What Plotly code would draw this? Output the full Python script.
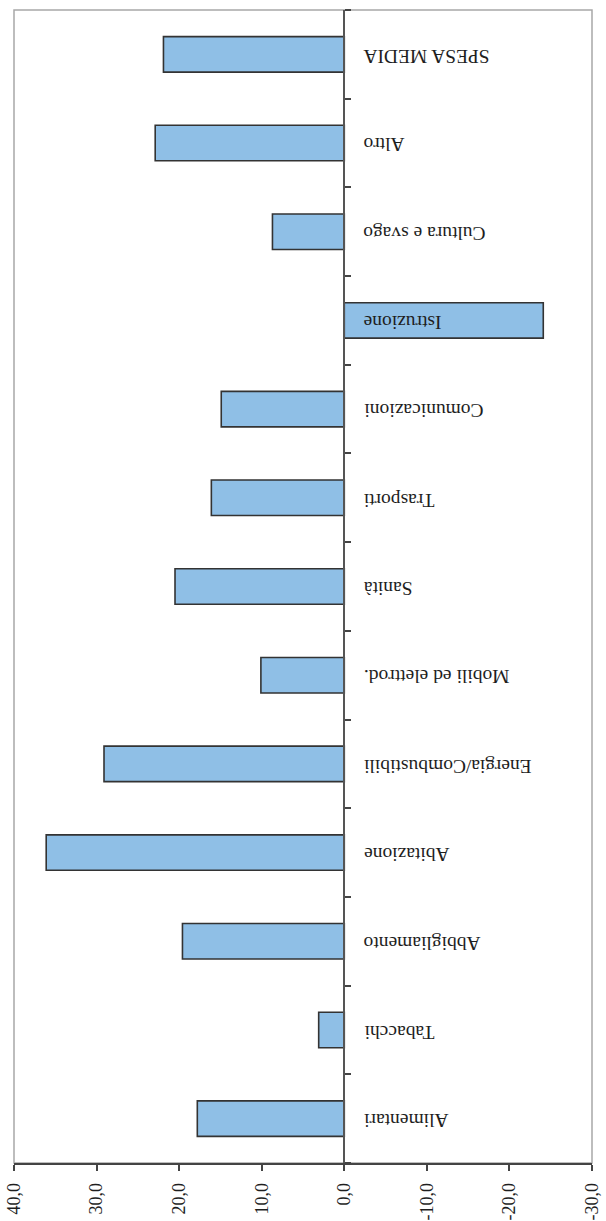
import plotly.graph_objects as go

# Spending categories (bottom to top) and their percentage values
categories = [
    "Alimentari", "Tabacchi", "Abbigliamento", "Abitazione",
    "Energia/Combustibili", "Mobili ed elettrod.", "Sanità", "Trasporti",
    "Comunicazioni", "Istruzione", "Cultura e svago", "Altro", "SPESA MEDIA",
]
values = [17.8, 3.1, 19.6, 36.1, 29.1, 10.1, 20.5, 16.1, 14.9, -24.1, 8.7, 22.9, 21.9]

tick_vals = [40, 30, 20, 10, 0, -10, -20, -30]
tick_text = ["40,0", "30,0", "20,0", "10,0", "0,0", "-10,0", "-20,0", "-30,0"]

x_min, x_max = -30, 40
serif = "Liberation Serif, Times New Roman, serif"
text_col = "#1e1e1e"

fig = go.Figure()
fig.add_trace(go.Bar(
    x=values,
    y=categories,
    orientation="h",
    marker=dict(color="#8FBFE6", line=dict(color="#333333", width=1.6)),
    hoverinfo="x+y",
))

# Upside-down category labels placed just past the zero line
for cat in categories:
    fig.add_annotation(
        x=0, y=cat, xref="x", yref="y",
        text=cat, showarrow=False,
        textangle=180, xanchor="left", yanchor="middle",
        xshift=17, yshift=-2,
        font=dict(family=serif, size=19.5, color=text_col),
    )

# Light frame around the plotting area
fig.add_shape(
    type="rect", xref="paper", yref="paper", x0=0, x1=1, y0=0, y1=1,
    line=dict(color="#A8A8A8", width=1.5), layer="below",
)

fig.update_layout(
    width=606, height=1221,
    margin=dict(l=14, r=14, t=10, b=58),
    paper_bgcolor="white", plot_bgcolor="white",
    showlegend=False,
    bargap=0.6,
    font=dict(family=serif, color=text_col),
    xaxis=dict(
        range=[x_max, x_min],
        tickvals=tick_vals, ticktext=tick_text,
        tickangle=-90,
        tickfont=dict(family=serif, size=18, color=text_col),
        ticks="outside", ticklen=6, tickwidth=1.5, tickcolor="#444444",
        ticklabelstandoff=5,
        showline=True, linecolor="#444444", linewidth=1.5,
        showgrid=False, zeroline=False, automargin=False,
    ),
    yaxis=dict(
        type="category",
        categoryorder="array", categoryarray=categories,
        anchor="free", position=x_max / (x_max - x_min), side="right",
        showline=True, linecolor="#555555", linewidth=1.5,
        ticks="outside", ticklen=6, tickwidth=1.5, tickcolor="#444444",
        tickson="boundaries",
        showticklabels=False, showgrid=False, zeroline=False, automargin=False,
    ),
)

fig.write_html("out.html")
